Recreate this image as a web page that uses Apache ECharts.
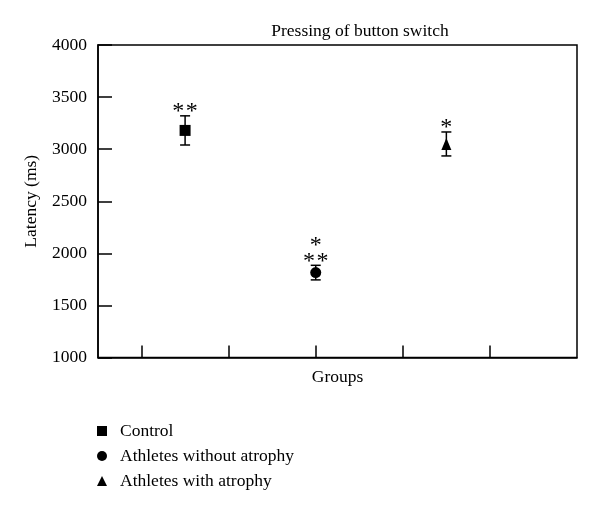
<!DOCTYPE html>
<html>
<head>
<meta charset="utf-8">
<script src="https://cdn.jsdelivr.net/npm/echarts@6/dist/echarts.min.js"></script>
<style>
html,body{margin:0;padding:0;background:#fff;}
#chart{width:600px;height:507px;}
</style>
</head>
<body>
<div id="chart"></div>
<script>
const categories = ['Control', 'Athletes without atrophy', 'Athletes with atrophy'];
const groupPositions = [1, 2.5, 4];
const means = [3180, 1815, 3050];
const errors = [140, 70, 115];
const significance = ['**', '*\n**', '*'];
const symbols = ['rect', 'circle', 'triangle'];
const symbolSizes = [11, 11, [10, 12]];
const xTickPositions = [0.5, 1.5, 2.5, 3.5, 4.5];
const yMin = 1000, yMax = 4000, yInterval = 500;

const FONT = '"Liberation Serif", "DejaVu Serif", serif';
const FS = 17.5;
const chart = echarts.init(document.getElementById('chart'));

const scatterSeries = categories.map((name, i) => ({
  name: name,
  type: 'scatter',
  symbol: symbols[i],
  symbolSize: symbolSizes[i],
  itemStyle: { color: '#000', opacity: 1 },
  data: [[groupPositions[i], means[i]]],
  z: 5
}));

const errorSeries = {
  name: 'errors',
  type: 'custom',
  data: categories.map((c, i) => [groupPositions[i], means[i], errors[i]]),
  renderItem: function (params, api) {
    const x = api.value(0), m = api.value(1), e = api.value(2);
    const top = api.coord([x, m + e]);
    const bot = api.coord([x, m - e]);
    const hw = 5;
    const st = { stroke: '#000', lineWidth: 1.5 };
    const children = [
      { type: 'line', shape: { x1: top[0], y1: top[1], x2: bot[0], y2: bot[1] }, style: st },
      { type: 'line', shape: { x1: top[0] - hw, y1: top[1], x2: top[0] + hw, y2: top[1] }, style: st },
      { type: 'line', shape: { x1: bot[0] - hw, y1: bot[1], x2: bot[0] + hw, y2: bot[1] }, style: st }
    ];
    const lines = significance[params.dataIndex].split('\n').reverse();
    const gap = 13.5;
    lines.forEach((ln, li) => {
      const n = ln.length;
      for (let k = 0; k < n; k++) {
        children.push({
          type: 'text',
          x: top[0] + (k - (n - 1) / 2) * gap,
          y: top[1] - 4 - li * 16,
          style: { text: ln[k], fill: '#000', font: '24px ' + FONT, textAlign: 'center', textVerticalAlign: 'middle' }
        });
      }
    });
    return { type: 'group', children: children };
  },
  z: 4
};

chart.setOption({
  animation: false,
  backgroundColor: '#fff',
  title: {
    text: 'Pressing of button switch',
    left: 360, top: 22, textAlign: 'center', padding: 0,
    textStyle: { fontFamily: FONT, fontSize: FS, fontWeight: 'normal', color: '#000' }
  },
  legend: {
    data: categories,
    orient: 'vertical',
    left: 97, top: 422, padding: 0,
    itemWidth: 10, itemHeight: 10, itemGap: 7,
    textStyle: { fontFamily: FONT, fontSize: FS, color: '#000', lineHeight: 16, padding: [0, 0, 0, 8] }
  },
  grid: {
    left: 98, right: 23, top: 45, bottom: 149.5,
    show: true, borderColor: '#000', borderWidth: 1.5, backgroundColor: 'transparent'
  },
  xAxis: {
    type: 'value',
    min: 0, max: 5.5,
    name: 'Groups',
    nameLocation: 'middle',
    nameGap: 11,
    nameTextStyle: { fontFamily: FONT, fontSize: FS, color: '#000', verticalAlign: 'top' },
    axisLine: { show: true, lineStyle: { color: '#000', width: 1.5 } },
    axisTick: { show: true, inside: true, length: 12, customValues: xTickPositions, lineStyle: { color: '#000', width: 1.5 } },
    axisLabel: { show: false },
    splitLine: { show: false }
  },
  yAxis: {
    type: 'value',
    min: yMin, max: yMax, interval: yInterval,
    name: 'Latency (ms)',
    nameLocation: 'middle',
    nameGap: 58,
    nameTextStyle: { fontFamily: FONT, fontSize: FS, color: '#000' },
    axisLine: { show: true, lineStyle: { color: '#000', width: 1.5 } },
    axisTick: { show: true, inside: true, length: 14, lineStyle: { color: '#000', width: 1.5 } },
    axisLabel: { fontFamily: FONT, fontSize: FS, color: '#000', margin: 11, formatter: function (v) { return String(v); } },
    splitLine: { show: false }
  },
  series: scatterSeries.concat([errorSeries])
});
</script>
</body>
</html>
